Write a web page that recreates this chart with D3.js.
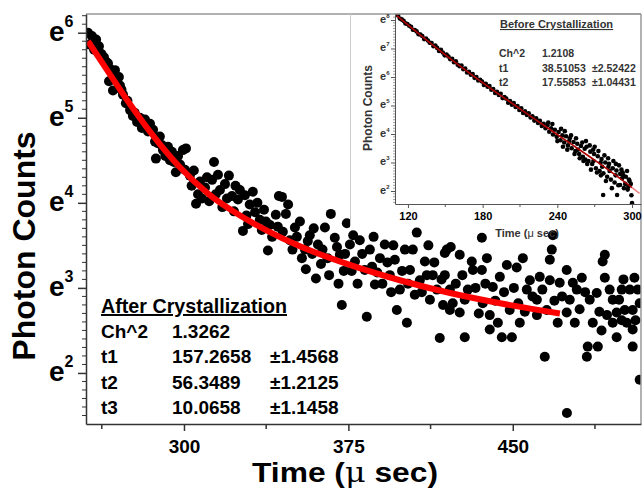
<!DOCTYPE html>
<html><head><meta charset="utf-8">
<script src="https://cdn.jsdelivr.net/npm/d3@7"></script>
<style>
body{margin:0;background:#fff}
svg{display:block}
text{font-family:"Liberation Sans",Arial,sans-serif;font-weight:bold;fill:#000}
</style>
</head><body>
<svg id="chart" width="644" height="488"></svg>
<script>
// ---------- DATA (time in µs, natural log of photon counts) ----------
const mainSamples = [
[256.2,6.00],[257.1,5.86],[258.0,5.96],[259.0,5.80],[259.9,5.92],[261.2,5.84],[262.4,5.75],[263.5,5.71],[264.4,5.66],[265.3,5.64],[265.8,5.43],[266.1,5.58],[267.2,5.54],[267.6,5.32],[268.5,5.56],[269.0,5.47],[270.3,5.48],[270.8,5.38],[271.5,5.33],[272.2,5.27],[273.5,5.17],[274.2,5.20],[275.4,5.09],[276.7,5.02],[277.5,5.06],[278.6,4.95],[279.9,5.00],[280.8,4.88],[281.5,4.93],[282.2,4.98],[283.6,4.84],[284.5,4.93],[285.9,4.86],[286.8,4.72],[287.2,4.52],[288.1,4.70],[289.0,4.78],[289.9,4.68],[290.4,4.62],[291.5,4.55],[292.7,4.66],[293.6,4.50],[294.5,4.60],[295.4,4.48],[296.3,4.36],[297.3,4.55],[298.2,4.45],[299.5,4.62],[300.4,4.39],[300.9,4.64],
[302.7,4.32],[303.5,4.20],[304.5,4.38],[305.5,3.99],[306.4,4.10],[307.3,4.25],[308.2,4.05],[309.6,4.18],[310.5,4.30],[311.5,4.02],[312.8,4.27],[313.7,4.48],[314.5,4.10],[315.5,4.33],[316.4,4.15],[317.5,3.95],[318.7,4.22],[319.6,4.05],[320.5,4.32],[321.9,4.08],[322.8,3.90],[323.5,4.20],[324.6,4.04],[325.5,4.15],[326.9,3.67],[327.8,4.09],[328.5,3.85],[329.2,3.75],[330.0,3.98],[331.4,4.13],[332.4,3.89],[333.5,4.00],[334.6,3.80],[335.5,3.68],[336.5,3.92],[337.4,3.78],[338.3,3.44],[339.2,3.74],[340.2,3.60],
[341.9,3.86],[342.8,3.72],[343.3,4.08],[344.7,4.07],[345.1,3.66],[346.5,3.87],[347.5,3.98],[348.3,3.56],[349.5,3.45],[350.6,3.71],[351.5,3.60],[352.9,3.78],[353.8,3.35],[355.2,3.45],[355.6,3.22],[356.5,3.55],[357.4,3.62],[358.5,3.40],[359.2,3.70],[360.2,3.11],[361.1,3.51],[362.5,3.28],[363.2,3.45],[364.3,3.71],[365.5,3.35],[366.2,3.15],[367.0,3.87],[368.8,3.59],[369.8,3.48],[370.5,3.05],[371.1,3.39],[372.0,2.80],[372.9,3.20],[373.5,3.40],[374.3,3.76],[375.7,3.51],[376.5,3.20],[377.2,3.62],[378.0,3.31],[379.2,3.05],[380.2,3.56],[381.3,3.40],[382.5,3.21],[383.4,2.66],[384.8,3.45],[385.8,3.25],[386.5,3.60],[387.1,3.04],[388.2,3.18],[389.4,3.35],[390.5,3.05],[391.6,3.51],[392.8,3.30],[393.9,3.15],[394.5,2.95],[395.5,3.50],[396.2,3.33],[397.1,2.74],[398.5,2.98],[399.5,3.20],[400.8,3.45],[401.7,2.59],[402.2,3.05],[403.1,3.21],[404.4,3.45],[405.3,2.92],[406.2,3.65],[407.6,3.09],[408.5,2.95],[409.9,3.31],[410.8,3.15],[411.5,3.50],[412.2,2.86],[413.5,3.15],[414.2,3.30],[415.4,2.98],[416.7,2.41],[417.5,3.10],[418.2,2.80],[419.0,3.41],[419.9,3.45],
[419.0,3.15],[421.3,2.98],[421.3,2.74],[421.7,3.48],[422.6,2.82],[424.0,3.05],[425.8,3.39],[425.8,2.71],[427.0,3.15],[428.1,2.86],[428.1,2.42],[429.5,2.98],[431.3,3.31],[431.8,3.21],[433.0,3.00],[434.5,2.70],[435.9,3.59],[435.9,3.21],[436.3,2.82],[437.5,3.05],[438.2,3.35],[439.5,2.68],[439.5,2.51],[440.9,3.01],[442.0,2.85],[443.2,2.59],[444.1,3.13],[445.0,2.42],[446.0,2.95],[447.3,3.27],[448.6,2.74],[449.6,2.42],[450.5,3.00],[451.8,3.24],[452.5,2.82],[453.2,2.59],[454.6,3.35],[455.5,2.72],[456.4,2.98],[457.8,3.09],[459.0,2.90],[461.0,2.86],[461.0,2.68],[462.3,3.13],[463.5,2.98],[464.6,2.19],[465.5,2.74],[466.9,3.09],[466.9,3.33],[467.8,3.45],[468.3,3.62],[469.0,2.85],[470.5,2.59],[471.4,3.06],[472.5,2.90],[474.6,3.21],[474.6,2.71],[476.0,2.86],[477.4,3.06],[478.3,2.59],[479.2,2.98],[480.5,2.75],[481.5,3.12],[483.0,2.95],[483.8,2.19],[484.2,2.31],[485.1,2.86],[486.5,2.59],[474.7,1.53],[488.3,2.94],[488.8,2.31],[489.5,2.72],[490.5,2.50],[491.0,3.31],[492.0,3.39],[492.0,3.12],[493.0,2.68],[494.2,2.98],[495.6,2.86],[495.6,2.59],[497.4,2.71],[497.4,2.42],[498.5,2.86],[499.7,2.98],[499.7,2.62],[500.5,3.10],[501.1,2.74],[502.0,2.59],[503.4,2.98],[504.7,2.74],[504.7,2.51],[504.7,2.31],[505.5,3.12],[506.0,2.62],[507.0,2.98],[507.9,2.82],[507.9,1.92]
];
const mainFitTime = [256.2,264.4,273.5,285.9,297.7,311.4,323.7,337.4,352.9,375.7,398.5,421.4,444.2,471.5];
const mainFitLn   = [5.90,5.58,5.23,4.79,4.43,4.10,3.88,3.68,3.49,3.27,3.09,2.94,2.82,2.70];

const insetSamples = [
[112,8.16],[113.5,8.05],[115,8.02],[116.5,7.97],[118,7.88],[119.5,7.86],[121,7.80],[122.5,7.76],[124,7.66],[125.5,7.65],[127,7.60],[128.5,7.50],[130,7.49],[131.5,7.44],[133,7.33],[134.5,7.35],[136,7.28],[137.5,7.20],[139,7.19],[140.5,7.08],[142,7.10],[143.5,7.02],[145,6.91],[146.5,6.95],[148,6.86],[149.5,6.76],[151,6.79],[152.5,6.72],[154,6.62],[155.5,6.64],[157,6.52],[158.5,6.55],[160,6.43],[161.5,6.38],[163,6.40],[164.5,6.27],[166,6.30],[167.5,6.16],[169,6.18],[170.5,6.08],[172,6.10],[173.5,5.97],[175,6.00],[176.5,5.88],[178,5.90],[179.5,5.84],[181,5.72],[182.5,5.76],[184,5.66],[185.5,5.68],[187,5.55],[188.5,5.58],[190,5.44],[191.5,5.48],[193,5.37],[194.5,5.41],[196,5.26],[197.5,5.30],[199,5.24],[200.5,5.10],[202,5.16],[203.5,5.03],[205,5.09],[206.5,4.95],[208,4.98],[209.5,4.84],[211,4.90],[212.5,4.74],[214,4.80],[215.5,4.67],[217,4.73],[218.5,4.58],[220,4.62],[221.5,4.47],[223,4.55],[224.5,4.39],[226,4.46],[227.5,4.28],[229,4.36],[230.5,4.20],[232,4.31],[233.5,4.08],[235,4.20],[236.5,3.98],[238,4.15],[239.5,3.90],[241,4.07],[242.5,3.78],[244,3.95],[245.5,3.70],[247,3.92],[248.5,3.60],[250,3.85],[251.5,3.50],[253,3.72],[254.5,3.40],[256,3.66],[257.5,3.30],[259,3.58],[260.5,3.20],[262,3.48],[263.5,3.55],[265,3.05],[266.5,3.38],[268,2.95],[269.5,3.30],[271,2.80],[272.5,3.22],[274,2.70],[275.5,3.12],[277,2.62],[278.5,3.00],[280,2.50],[281.5,2.95],[283,2.40],[284.5,2.80],[286,2.30],[287.5,2.72],[289,2.20],[290.5,2.60],[292,2.45],[293.5,2.10],[295,2.50],[296.5,2.05],[298,2.35],[299.5,1.85],
[232.7,4.40],[236,4.35],[240,3.75],[243,4.18],[246,4.10],[248,3.45],[251,3.95],[253.8,3.30],[255,3.85],[258,3.15],[260,3.70],[261,3.05],[263,3.75],[264,2.95],[266,3.60],[267,2.75],[268.8,3.45],[270,3.55],[271.8,2.65],[273,3.40],[274.8,3.00],[276,2.85],[276.8,1.86],[277.8,3.25],[279,2.35],[280.8,3.15],[282,2.70],[283.8,2.10],[285,3.05],[286.8,2.55],[288,1.86],[289.5,2.90],[290.4,2.21],[291.5,2.75],[293,2.55],[294.5,2.25],[296,2.70],[297.5,2.40],[299,2.25],[300,1.58],[244.5,3.55],[249.5,3.75],[256.5,3.45],[262.5,3.10],[269,3.05],[275,2.55],[281,2.85],[287,2.95],[292.5,2.65],[297,2.15]
];
const insetFitTime = [111,130,150,170,190,210,230,250,270,290,300];
const insetFitLn   = [8.15,7.47,6.78,6.12,5.49,4.88,4.28,3.68,3.08,2.45,2.12];
const insetTailTime = [300,306];
const insetTailLn   = [2.12,1.92];

const mainXTicks = [300,375,450];
const mainXMinor = [262.5,337.5,412.5,487.5];
const mainYTicks = [2,3,4,5,6];
const insetXTicks = [120,180,240,300];
const insetXMinor = [150,210,270];
const insetYTicks = [2,3,4,5,6,7,8];

const afterTitle = "After Crystallization";
const afterRows = [["Ch^2","1.3262",""],["t1","157.2658","±1.4568"],["t2","56.3489","±1.2125"],["t3","10.0658","±1.1458"]];
const beforeTitle = "Before Crystallization";
const beforeRows = [["Ch^2","1.2108",""],["t1","38.51053","±2.52422"],["t2","17.55853","±1.04431"]];

// ---------- MAIN CHART ----------
const svg = d3.select("#chart");
const M = {l:86, r:641, t:14, b:424};
const x = d3.scaleLinear().domain([255.3,508.5]).range([M.l,M.r]);
const y = d3.scaleLinear().domain([1.4,6.22]).range([M.b,M.t]);

svg.append("clipPath").attr("id","mclip").append("rect")
  .attr("x",M.l).attr("y",M.t).attr("width",M.r-M.l).attr("height",M.b-M.t);

const plot = svg.append("g").attr("clip-path","url(#mclip)");
plot.selectAll("circle").data(mainSamples).join("circle")
  .attr("cx",d=>x(d[0])).attr("cy",d=>y(d[1])).attr("r",5).attr("fill","#000");
plot.append("path")
  .datum(mainFitTime.map((t,i)=>[t,mainFitLn[i]]))
  .attr("fill","none").attr("stroke","#ff0000").attr("stroke-width",6).attr("stroke-linecap","butt")
  .attr("d",d3.line().x(d=>x(d[0])).y(d=>y(d[1])).curve(d3.curveMonotoneX));

// frame
svg.append("line").attr("x1",M.l).attr("x2",M.r).attr("y1",M.t).attr("y2",M.t).attr("stroke","#999").attr("stroke-width",1.5);
svg.append("line").attr("x1",M.r).attr("x2",M.r).attr("y1",M.t).attr("y2",M.b).attr("stroke","#999").attr("stroke-width",1.5);

// x axis
const xAxis = svg.append("g").attr("transform",`translate(0,${M.b})`)
  .call(d3.axisBottom(x).tickValues(mainXTicks).tickSize(7).tickSizeOuter(0).tickPadding(9));
xAxis.select(".domain").attr("stroke","#333").attr("stroke-width",1.5);
xAxis.selectAll(".tick line").attr("stroke","#333").attr("stroke-width",1.5);
xAxis.selectAll(".tick text").style("font-size","19px").style("font-family","'Liberation Sans',Arial,sans-serif").style("font-weight","bold");
xAxis.selectAll(".minor").data(mainXMinor).join("line").attr("class","minor")
  .attr("x1",d=>x(d)).attr("x2",d=>x(d)).attr("y1",0).attr("y2",5).attr("stroke","#333").attr("stroke-width",1.5);

// y axis
const yAxis = svg.append("g").attr("transform",`translate(${M.l},0)`)
  .call(d3.axisLeft(y).tickValues(mainYTicks).tickSize(8).tickSizeOuter(0).tickFormat(""));
yAxis.select(".domain").attr("stroke","#333").attr("stroke-width",1.5);
yAxis.selectAll(".tick line").attr("stroke","#333").attr("stroke-width",1.5);
const yMinor = d3.range(15,63).map(v=>v/10).filter(v=>!mainYTicks.includes(v));
yAxis.selectAll(".minor").data(yMinor).join("line").attr("class","minor")
  .attr("x1",0).attr("x2",-4).attr("y1",d=>y(d)).attr("y2",d=>y(d)).attr("stroke","#333").attr("stroke-width",1);
const ylab = svg.selectAll(".ylab").data(mainYTicks).join("text").attr("class","ylab")
  .attr("x",49).attr("y",d=>y(d)+8).style("font-size","28px");
ylab.append("tspan").text("e");
ylab.append("tspan").attr("dy",-14).style("font-size","16px").text(d=>d);

// axis titles
svg.append("text").attr("transform","translate(35,246) rotate(-90)").attr("text-anchor","middle")
  .style("font-size","32px").text("Photon Counts");
const xt = svg.append("text").attr("x",345).attr("y",482).attr("text-anchor","middle")
  .attr("textLength",186).attr("lengthAdjust","spacingAndGlyphs").style("font-size","27px");
xt.append("tspan").text("Time (");
xt.append("tspan").style("font-weight","normal").style("font-family","'DejaVu Serif',serif").text("μ");
xt.append("tspan").text(" sec)");

// after text box
svg.append("text").attr("x",101).attr("y",313).style("font-size","19.7px").style("text-decoration","underline").text(afterTitle);
const rowG = svg.selectAll(".arow").data(afterRows).join("g").attr("class","arow")
  .attr("transform",(d,i)=>`translate(0,${338+i*25.3})`);
rowG.append("text").attr("x",101).style("font-size","19px").text(d=>d[0]);
rowG.append("text").attr("x",172).style("font-size","19px").text(d=>d[1]);
rowG.append("text").attr("x",270).style("font-size","19px").text(d=>d[2]);

// ---------- INSET ----------
const I = {l:395, r:641, t:14, b:204};
svg.append("rect").attr("x",350).attr("y",15).attr("width",M.r-350-1).attr("height",212).attr("fill","#fff");
svg.append("line").attr("x1",350.5).attr("x2",350.5).attr("y1",14).attr("y2",226).attr("stroke","#ccc").attr("stroke-width",1);
const ix = d3.scaleLinear().domain([109.6,307.2]).range([I.l,I.r]);
const iy = d3.scaleLinear().domain([1.544,8.21]).range([I.b,I.t]);
svg.append("clipPath").attr("id","iclip").append("rect")
  .attr("x",I.l).attr("y",I.t).attr("width",I.r-I.l).attr("height",I.b-I.t);
const ip = svg.append("g").attr("clip-path","url(#iclip)");
ip.selectAll("circle").data(insetSamples).join("circle")
  .attr("cx",d=>ix(d[0])).attr("cy",d=>iy(d[1])).attr("r",2.3).attr("fill","#000");
const iline = d3.line().x(d=>ix(d[0])).y(d=>iy(d[1])).curve(d3.curveMonotoneX);
ip.append("path").datum(insetFitTime.map((t,i)=>[t,insetFitLn[i]]))
  .attr("fill","none").attr("stroke","#b00000").attr("stroke-width",1.6).attr("d",iline);
ip.append("path").datum(insetTailTime.map((t,i)=>[t,insetTailLn[i]]))
  .attr("fill","none").attr("stroke","#f08080").attr("stroke-width",1.6).attr("d",iline);

// inset frame
svg.append("line").attr("x1",I.l).attr("x2",M.r).attr("y1",I.t).attr("y2",I.t).attr("stroke","#999").attr("stroke-width",1.5);

const ixAxis = svg.append("g").attr("transform",`translate(0,${I.b})`)
  .call(d3.axisBottom(ix).tickValues(insetXTicks).tickSize(4).tickSizeOuter(0).tickPadding(4));
ixAxis.select(".domain").attr("stroke","#555").attr("stroke-width",1);
ixAxis.selectAll(".tick line").attr("stroke","#555");
ixAxis.selectAll(".tick text").style("font-size","11px").style("font-family","'Liberation Sans',Arial,sans-serif").style("font-weight","bold");
ixAxis.selectAll(".minor").data(insetXMinor).join("line").attr("class","minor")
  .attr("x1",d=>ix(d)).attr("x2",d=>ix(d)).attr("y1",0).attr("y2",3).attr("stroke","#555");

const iyAxis = svg.append("g").attr("transform",`translate(${I.l},0)`)
  .call(d3.axisLeft(iy).tickValues(insetYTicks).tickSize(4).tickSizeOuter(0).tickFormat(""));
iyAxis.select(".domain").attr("stroke","#555").attr("stroke-width",1);
iyAxis.selectAll(".tick line").attr("stroke","#555");
const iyMinor = d3.range(16,82).map(v=>v/10).filter(v=>!insetYTicks.includes(v));
iyAxis.selectAll(".minor").data(iyMinor).join("line").attr("class","minor")
  .attr("x1",0).attr("x2",-2).attr("y1",d=>iy(d)).attr("y2",d=>iy(d)).attr("stroke","#777").attr("stroke-width",0.7);
const iylab = svg.selectAll(".iylab").data(insetYTicks).join("text").attr("class","iylab")
  .attr("x",380).attr("y",d=>iy(d)+3).style("font-size","11px").style("fill","#333");
iylab.append("tspan").text("e");
iylab.append("tspan").attr("dy",-5).style("font-size","6px").text(d=>d);

svg.append("text").attr("transform","translate(372,108) rotate(-90)").attr("text-anchor","middle")
  .style("font-size","12px").style("fill","#333").text("Photon Counts");
const ixt = svg.append("text").attr("x",527).attr("y",237).attr("text-anchor","middle").style("font-size","11px").style("fill","#333");
ixt.append("tspan").text("Time (");
ixt.append("tspan").style("font-weight","normal").text("μ");
ixt.append("tspan").text(" sec)");

svg.append("text").attr("x",500).attr("y",28).style("font-size","11px").style("fill","#333").style("text-decoration","underline").text(beforeTitle);
const brow = svg.selectAll(".brow").data(beforeRows).join("g").attr("class","brow")
  .attr("transform",(d,i)=>`translate(0,${i===0?57:72+(i-1)*13.5})`);
brow.append("text").attr("x",499).style("font-size","10.5px").style("fill","#333").text(d=>d[0]);
brow.append("text").attr("x",542).style("font-size","10.5px").style("fill","#333").text(d=>d[1]);
brow.append("text").attr("x",592).style("font-size","10.5px").style("fill","#333").text(d=>d[2]);
</script>
</body></html>
